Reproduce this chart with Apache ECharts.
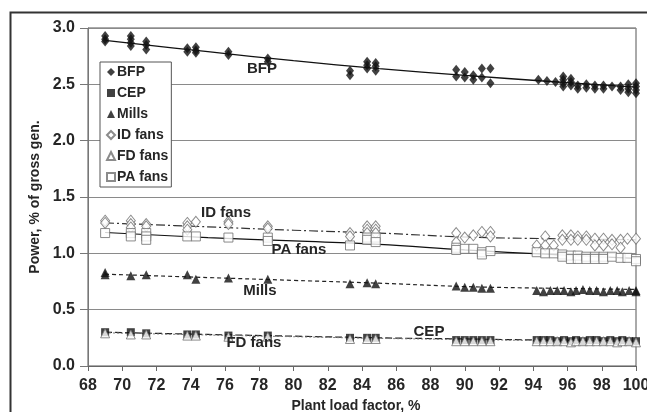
<!DOCTYPE html>
<html>
<head>
<meta charset="utf-8">
<script src="https://cdn.jsdelivr.net/npm/echarts@6/dist/echarts.min.js"></script>
<style>html,body{margin:0;padding:0;background:#fff;}#c{width:647px;height:412px;}</style>
</head>
<body>
<div id="c"></div>
<script>
// ---- data ----
var seriesNames = ['BFP', 'CEP', 'Mills', 'ID fans', 'FD fans', 'PA fans'];
var xTicks = [68, 100, 2];
var yTicks = [0, 3, 0.5];

var bfpPoints = [[69,2.93],[69,2.90],[69,2.88],[70.5,2.93],[70.5,2.90],[70.5,2.87],[70.5,2.84],
  [71.4,2.88],[71.4,2.85],[71.4,2.81],[73.8,2.82],[73.8,2.79],[74.3,2.83],[74.3,2.80],[74.3,2.78],
  [76.2,2.79],[76.2,2.76],[78.5,2.73],[78.5,2.70],[83.3,2.62],[83.3,2.58],
  [84.3,2.70],[84.3,2.67],[84.3,2.64],[84.8,2.69],[84.8,2.66],[84.8,2.62],
  [89.5,2.63],[89.5,2.57],[90.0,2.61],[90.0,2.56],[90.5,2.58],[90.5,2.54],[91.0,2.64],[91.0,2.56],[91.5,2.64],[91.5,2.51],
  [94.3,2.54],[94.8,2.53],[95.3,2.52],[95.75,2.57],[95.75,2.54],[95.75,2.51],[95.75,2.48],
  [96.2,2.55],[96.2,2.52],[96.2,2.49],[96.6,2.49],[96.6,2.46],[97.1,2.50],[97.1,2.47],
  [97.6,2.49],[97.6,2.46],[98.1,2.49],[98.1,2.46],[98.6,2.48],[99.1,2.48],[99.1,2.45],
  [99.55,2.50],[99.55,2.46],[99.55,2.43],[100,2.51],[100,2.48],[100,2.45],[100,2.42]];

var cepPoints = [[69,0.30],[70.5,0.30],[71.4,0.29],[73.8,0.28],[74.3,0.28],[76.2,0.27],[78.5,0.27],
  [83.3,0.25],[84.3,0.25],[84.8,0.25],[89.5,0.23],[90.0,0.23],[90.5,0.23],[91.0,0.23],[91.5,0.23],
  [94.2,0.23],[94.6,0.23],[95.0,0.23],[95.4,0.22],[95.8,0.23],[96.2,0.22],[96.5,0.23],[96.9,0.22],
  [97.3,0.23],[97.7,0.23],[98.1,0.22],[98.5,0.23],[98.9,0.22],[99.2,0.23],[99.6,0.22],[100,0.22]];

var millsPoints = [[69,0.83],[69,0.81],[70.5,0.80],[71.4,0.81],[73.8,0.81],[74.3,0.77],[76.2,0.78],[78.5,0.77],
  [83.3,0.73],[84.3,0.74],[84.8,0.73],[89.5,0.71],[90.0,0.70],[90.5,0.70],[91.0,0.69],[91.5,0.69],
  [94.2,0.67],[94.6,0.66],[95.0,0.67],[95.4,0.67],[95.8,0.67],[96.2,0.66],[96.5,0.67],[96.9,0.68],
  [97.3,0.67],[97.7,0.67],[98.1,0.66],[98.5,0.67],[98.9,0.67],[99.2,0.66],[99.6,0.67],[100,0.67],[100,0.66]];

var idPoints = [[69,1.29],[69,1.27],[70.5,1.29],[70.5,1.26],[70.5,1.23],[71.4,1.26],[71.4,1.24],
  [73.8,1.27],[73.8,1.24],[73.8,1.21],[74.3,1.28],[76.2,1.28],[76.2,1.26],[78.5,1.24],[78.5,1.22],
  [83.3,1.18],[83.3,1.15],[84.3,1.24],[84.3,1.21],[84.3,1.18],[84.8,1.24],[84.8,1.21],[84.8,1.18],
  [89.5,1.18],[89.5,1.10],[90.0,1.14],[90.5,1.16],[91.0,1.19],[91.5,1.19],[91.5,1.15],
  [94.2,1.07],[94.7,1.15],[94.7,1.07],[95.2,1.07],[95.7,1.16],[95.7,1.12],[96.2,1.16],[96.2,1.12],
  [96.6,1.15],[96.6,1.12],[97.1,1.15],[97.1,1.12],[97.6,1.13],[97.6,1.07],[98.1,1.13],[98.1,1.07],
  [98.6,1.12],[98.6,1.08],[99.1,1.12],[99.1,1.05],[99.5,1.13],[100,1.13]];

var fdPoints = [[69,0.29],[70.5,0.28],[71.4,0.28],[73.8,0.27],[74.3,0.27],[76.2,0.26],[78.5,0.26],
  [83.3,0.24],[84.3,0.24],[84.8,0.24],[89.5,0.22],[90.0,0.22],[90.5,0.22],[91.0,0.22],[91.5,0.22],
  [94.2,0.22],[94.6,0.22],[95.0,0.22],[95.4,0.22],[95.8,0.22],[96.2,0.21],[96.5,0.22],[96.9,0.22],
  [97.3,0.22],[97.7,0.22],[98.1,0.22],[98.5,0.22],[98.9,0.21],[99.2,0.22],[99.6,0.22],[100,0.21]];

var paPoints = [[69,1.18],[70.5,1.18],[70.5,1.15],[71.4,1.18],[71.4,1.15],[71.4,1.12],[73.8,1.15],[74.3,1.15],
  [76.2,1.14],[78.5,1.14],[78.5,1.11],[83.3,1.07],[84.3,1.14],[84.3,1.12],[84.8,1.14],[84.8,1.10],
  [89.5,1.05],[89.5,1.03],[90.0,1.04],[90.5,1.04],[91.0,1.01],[91.0,0.99],[91.5,1.02],
  [94.2,1.01],[94.7,1.00],[95.2,1.00],[95.7,0.99],[95.7,0.97],[96.2,0.98],[96.2,0.95],[96.6,0.98],[96.6,0.95],
  [97.1,0.97],[97.1,0.95],[97.6,0.97],[97.6,0.95],[98.1,0.97],[98.1,0.95],[98.6,0.97],[99.1,0.96],
  [99.5,0.96],[100,0.95],[100,0.93]];

// trend lines
var trendX    = [69, 75, 80, 85, 90, 95, 100];
var bfpTrend  = [2.89, 2.79, 2.71, 2.64, 2.58, 2.525, 2.475];
var cepTrend  = [0.30, 0.28, 0.265, 0.25, 0.24, 0.23, 0.225];
var millsTrend= [0.815, 0.785, 0.76, 0.735, 0.705, 0.69, 0.68];
var idTrend   = [1.27, 1.235, 1.205, 1.18, 1.145, 1.13, 1.12];
var fdTrend   = [0.295, 0.275, 0.26, 0.245, 0.235, 0.225, 0.22];
var paTrend   = [1.185, 1.14, 1.11, 1.08, 1.03, 0.99, 0.955];

// in-plot annotation labels (data coordinates)
var noteTexts = ['BFP', 'ID fans', 'PA fans', 'Mills', 'FD fans', 'CEP'];
var noteX     = [78.16, 76.06, 80.32, 78.04, 77.69, 87.91];
var noteY     = [2.636, 1.358, 1.03, 0.666, 0.204, 0.302];

// ---- chart ----
var FONT = '"Liberation Sans", Arial, sans-serif';
var TXT = '#262626';
function pairs(xs, ys) { return xs.map(function (x, i) { return [x, ys[i]]; }); }
function scatter(name, pts, symbol, size, filled) {
  return {
    name: name, type: 'scatter', data: pts, symbol: symbol, symbolSize: size, z: 5,
    itemStyle: filled ? { color: '#111', borderWidth: 0 } : { color: '#fff', borderColor: '#6e6e6e', borderWidth: 1 },
    emphasis: { disabled: true }
  };
}
function trend(ys, color, width, type) {
  return {
    type: 'line', data: pairs(trendX, ys), smooth: 0.4, showSymbol: false, symbol: 'none', z: 3,
    lineStyle: { color: color, width: width, type: type }, emphasis: { disabled: true }
  };
}

var frame = {
  type: 'rect', left: 8, top: 10, silent: true, z: 100,
  shape: { width: 700, height: 500 },
  style: { fill: 'none', stroke: '#333', lineWidth: 2 }
};

var chart = echarts.init(document.getElementById('c'), null, { renderer: 'canvas' });
chart.setOption({
  animation: false,
  backgroundColor: '#fff',
  grid: { left: 88, right: 11, top: 28, bottom: 46, containLabel: false, outerBoundsMode: 'none',
    show: true, borderColor: '#555', borderWidth: 1, backgroundColor: 'transparent' },
  legend: {
    data: seriesNames, orient: 'vertical', left: 100, top: 62,
    backgroundColor: '#fff', borderColor: '#555', borderWidth: 1,
    padding: [3, 3, 3, 6], itemGap: 7, itemWidth: 8, itemHeight: 8,
    textStyle: { fontFamily: FONT, fontWeight: 'bold', fontSize: 14, color: TXT, lineHeight: 14, padding: [0, 0, 0, -3] }
  },
  xAxis: {
    type: 'value', min: xTicks[0], max: xTicks[1], interval: xTicks[2],
    name: 'Plant load factor, %', nameLocation: 'middle', nameGap: 31,
    nameTextStyle: { fontFamily: FONT, fontWeight: 'bold', fontSize: 14, color: TXT, padding: [0, 12, 0, 0] },
    axisLine: { show: true, lineStyle: { color: '#666', width: 1 } },
    axisTick: { show: true, length: 5, lineStyle: { color: '#666' } },
    axisLabel: { fontFamily: FONT, fontWeight: 'bold', fontSize: 16, color: TXT, margin: 12 },
    splitLine: { show: false }
  },
  yAxis: {
    type: 'value', min: yTicks[0], max: yTicks[1], interval: yTicks[2],
    name: 'Power, % of gross gen.', nameLocation: 'middle', nameGap: 45, nameRotate: 90,
    nameTextStyle: { fontFamily: FONT, fontWeight: 'bold', fontSize: 14, color: TXT },
    axisLine: { show: true, lineStyle: { color: '#777', width: 1 } },
    axisTick: { show: true, length: 8, lineStyle: { color: '#777' } },
    axisLabel: { fontFamily: FONT, fontWeight: 'bold', fontSize: 16, color: TXT, margin: 13,
      formatter: function (v) { return v.toFixed(1); } },
    splitLine: { show: true, lineStyle: { color: '#8a8a8a', width: 1 } }
  },
  series: [
    scatter('BFP', bfpPoints, 'diamond', [8, 10], true),
    scatter('CEP', cepPoints, 'rect', [8, 8], true),
    scatter('Mills', millsPoints, 'triangle', [9, 9], true),
    scatter('ID fans', idPoints, 'diamond', [9, 11], false),
    scatter('FD fans', fdPoints, 'triangle', [9, 9], false),
    scatter('PA fans', paPoints, 'rect', [9, 9], false),
    trend(bfpTrend, '#111', 1.3, 'solid'),
    trend(cepTrend, '#222', 1.2, [7, 3]),
    trend(millsTrend, '#222', 1.2, [4, 3]),
    trend(idTrend, '#333', 1.2, [9, 3, 2, 3]),
    trend(fdTrend, '#777', 1, [2, 2]),
    trend(paTrend, '#111', 1.2, 'solid')
  ],
  graphic: [frame]
});

var notes = noteTexts.map(function (t, i) {
  var p = chart.convertToPixel({ gridIndex: 0 }, [noteX[i], noteY[i]]);
  return {
    type: 'text', x: p[0], y: p[1], z: 50, silent: true,
    style: { text: t, fontFamily: FONT, fontWeight: 'bold', fontSize: 15, fill: TXT, align: 'center', verticalAlign: 'middle' }
  };
});
chart.setOption({ graphic: [frame].concat(notes) });
</script>
</body>
</html>
